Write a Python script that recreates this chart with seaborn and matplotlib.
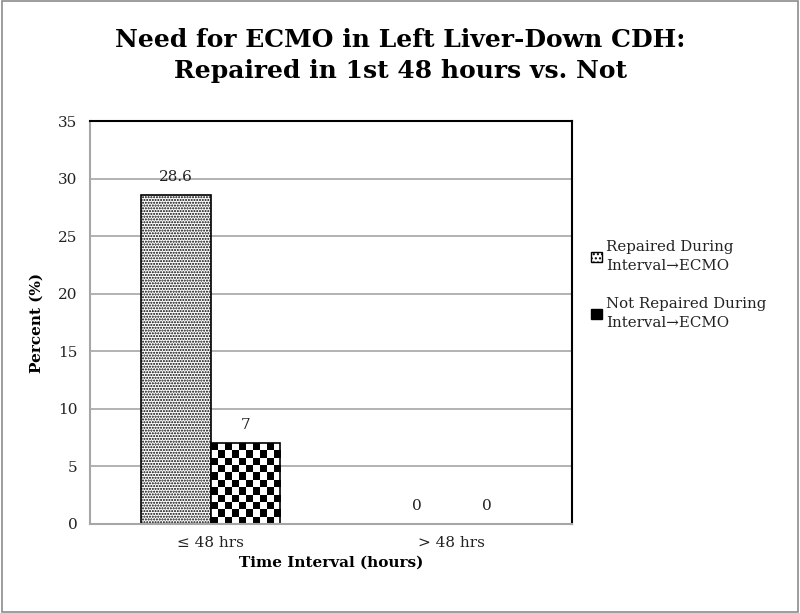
import matplotlib
matplotlib.use("Agg")
import matplotlib.pyplot as plt
import numpy as np
import pandas as pd
import seaborn as sns
from matplotlib.patches import Patch, Rectangle

intervals = ["≤ 48 hrs", "> 48 hrs"]
groups = ["Repaired During\nInterval→ECMO", "Not Repaired During\nInterval→ECMO"]
repaired = [28.6, 0]
not_repaired = [7, 0]

df = pd.DataFrame({
    "interval": intervals * 2,
    "group": [groups[0]] * 2 + [groups[1]] * 2,
    "percent": repaired + not_repaired,
})

sns.set_theme(style="white")
plt.rcParams["font.family"] = ["DejaVu Serif"]
plt.rcParams["hatch.color"] = "#555555"
plt.rcParams["hatch.linewidth"] = 1.0

fig = plt.figure(figsize=(8, 6.13), dpi=100)
ax = fig.add_axes([0.1125, 0.1452, 0.6025, 0.6574])

sns.barplot(data=df, x="interval", y="percent", hue="group", order=intervals,
            hue_order=groups, width=0.58, palette=["white", "white"],
            edgecolor="black", linewidth=1.2, legend=False, ax=ax)

ax.yaxis.grid(True, color="#a6a6a6", linewidth=1.2)
ax.set_axisbelow(True)

bars = [p for p in ax.patches if isinstance(p, Rectangle)][:4]
# bars come out hue by hue
bar_values = repaired + not_repaired

# first hue: dotted fill
for p in bars[:2]:
    p.set_hatch("......")

# second hue: checkerboard via clipped image
checker = np.indices((40, 10)).sum(axis=0) % 2
for p in bars[2:]:
    h = p.get_height()
    if h <= 0:
        continue
    rows = max(1, int(round(h / 7 * 11)))
    img = ax.imshow(checker[:rows], cmap="gray", interpolation="nearest", aspect="auto",
                    extent=(p.get_x(), p.get_x() + p.get_width(), 0, h), zorder=p.get_zorder())
    img.set_clip_path(p)
    p.set_zorder(p.get_zorder() + 0.1)
    p.set_facecolor("none")

ax.set_xlim(-0.5, 1.5)
ax.set_ylim(0, 35)
ax.set_yticks(range(0, 36, 5))

for p, v in zip(bars, bar_values):
    ax.annotate(f"{v:g}", (p.get_x() + p.get_width() / 2, p.get_height()),
                xytext=(0, 8), textcoords="offset points", ha="center", va="bottom",
                fontsize=11, color="#222222")

for side in ["left", "bottom"]:
    ax.spines[side].set_color("#a6a6a6")
    ax.spines[side].set_linewidth(1.5)
for side in ["top", "right"]:
    ax.spines[side].set_color("black")
    ax.spines[side].set_linewidth(1.5)

ax.tick_params(axis="both", labelsize=11, colors="#222222", length=0, pad=9)
ax.set_ylabel("Percent (%)", fontsize=11, fontweight="bold", labelpad=10, color="black")
ax.set_xlabel("Time Interval (hours)", fontsize=11, fontweight="bold", labelpad=4, color="black")

fig.suptitle("Need for ECMO in Left Liver-Down CDH:\nRepaired in 1st 48 hours vs. Not",
             fontsize=18, fontweight="bold", y=0.955, x=0.5, color="black", linespacing=1.4)

handles = [
    Patch(facecolor="white", edgecolor="black", hatch="....", label=groups[0]),
    Patch(facecolor="black", edgecolor="black", hatch="||", label=groups[1]),
]
leg = fig.legend(handles=handles, loc="center left", bbox_to_anchor=(0.722, 0.535),
                 frameon=False, fontsize=10.8, handlelength=0.7, handleheight=0.7,
                 handletextpad=0.3, labelspacing=1.6, labelcolor="#222222")
for t in leg.get_texts():
    t.set_linespacing(1.45)

fig.patches.append(Rectangle((0.002, 0.002), 0.996, 0.996, transform=fig.transFigure,
                             fill=False, edgecolor="#8c8c8c", linewidth=1.2))

fig.savefig("out.png", dpi=100)
